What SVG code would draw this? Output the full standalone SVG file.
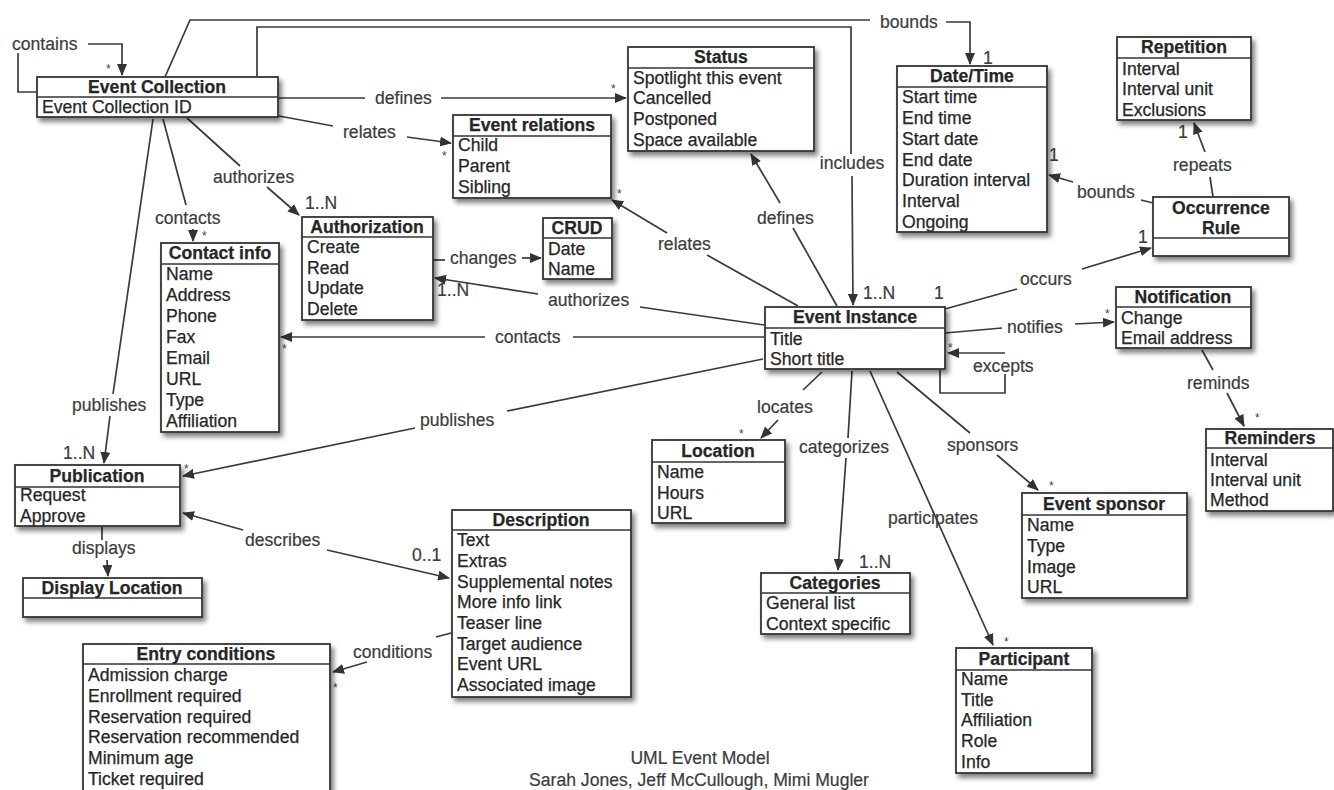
<svg xmlns="http://www.w3.org/2000/svg" width="1334" height="790" viewBox="0 0 1334 790">
<style>
.bx{fill:#fff;stroke:#333;stroke-width:1.8}
.dv{stroke:#333;stroke-width:1.5}
.t{font-family:"Liberation Sans",Arial,sans-serif;font-size:17.6px;fill:#262626;stroke:#262626;stroke-width:0.25}
.h{font-weight:bold;text-anchor:middle}
.ln{fill:none;stroke:#3a3a3a;stroke-width:1.7}
.ar{fill:none;stroke:#3a3a3a;stroke-width:1.7;marker-end:url(#ah)}
.l{font-family:"Liberation Sans",Arial,sans-serif;font-size:17.6px;fill:#3c3c3c;stroke:#3c3c3c;stroke-width:0.2}
.m{font-family:"Liberation Sans",Arial,sans-serif;font-size:12px;fill:#444}
.c{text-anchor:middle}
</style>
<defs>
<filter id="sh" x="-10%" y="-10%" width="130%" height="140%">
<feGaussianBlur in="SourceAlpha" stdDeviation="2.5"/>
<feOffset dx="3" dy="4" result="o"/>
<feComponentTransfer><feFuncA type="linear" slope="0.5"/></feComponentTransfer>
<feMerge><feMergeNode/><feMergeNode in="SourceGraphic"/></feMerge>
</filter>
<marker id="ah" markerWidth="12" markerHeight="10" refX="11" refY="5" orient="auto" markerUnits="userSpaceOnUse">
<path d="M0,0 L12,5 L0,10 z" fill="#333"/>
</marker>
</defs>
<rect width="1334" height="790" fill="#fff"/>

<g id="connectors">
<!-- contains -->
<path class="ln" d="M37,92 H18 V53"/>
<text class="l" x="12" y="50">contains</text>
<path class="ar" d="M88,44 H122 V75"/>
<text class="m" x="106" y="73">*</text>
<!-- bounds (top) -->
<path class="ln" d="M165,77 L190,20 H870"/>
<text class="l" x="880" y="28">bounds</text>
<path class="ar" d="M946,22 H970 V64"/>
<text class="l" x="983" y="64">1</text>
<!-- includes -->
<path class="ln" d="M257,76 V27 H851 V154"/>
<text class="l c" x="852" y="169">includes</text>
<path class="ar" d="M852,176 L853,305"/>
<text class="l" x="863" y="299">1..N</text>
<!-- defines EC -> Status -->
<path class="ln" d="M278,98 H365"/>
<text class="l" x="375" y="104">defines</text>
<path class="ar" d="M441,98 H626"/>
<text class="m" x="611" y="93">*</text>
<!-- relates EC -> Event relations -->
<path class="ln" d="M279,116 L333,126"/>
<text class="l" x="343" y="138">relates</text>
<path class="ar" d="M407,137 L451,143"/>
<text class="m" x="442" y="160">*</text>
<!-- authorizes EC -> Authorization -->
<path class="ln" d="M187,118 L240,166"/>
<text class="l" x="213" y="183">authorizes</text>
<path class="ar" d="M267,187 L299,215"/>
<text class="l" x="305" y="209">1..N</text>
<!-- contacts EC -> Contact info -->
<path class="ln" d="M163,119 L186,205"/>
<text class="l" x="155" y="224">contacts</text>
<path class="ar" d="M193,229 V241"/>
<text class="m" x="202" y="240">*</text>
<!-- publishes EC -> Publication -->
<path class="ln" d="M153,119 L113,394"/>
<text class="l" x="72" y="411">publishes</text>
<path class="ar" d="M110,416 L104,463"/>
<text class="l" x="63" y="459">1..N</text>
<!-- changes -->
<path class="ln" d="M433,260 H445"/>
<text class="l" x="450" y="264">changes</text>
<path class="ar" d="M522,258 H541"/>
<!-- authorizes EI -> Authorization -->
<path class="ln" d="M764,325 L640,307"/>
<text class="l" x="548" y="306">authorizes</text>
<path class="ar" d="M538,294 L435,278"/>
<text class="l" x="437" y="296">1..N</text>
<!-- contacts EI -> Contact info -->
<path class="ln" d="M764,337 H573"/>
<text class="l" x="495" y="343">contacts</text>
<path class="ar" d="M485,337 H281"/>
<text class="m" x="282" y="353">*</text>
<!-- relates EI -> Event relations -->
<path class="ln" d="M798,306 L707,255"/>
<text class="l" x="658" y="250">relates</text>
<path class="ar" d="M667,233 L612,200"/>
<text class="m" x="617" y="198">*</text>
<!-- defines EI -> Status -->
<path class="ln" d="M837,306 L793,228"/>
<text class="l" x="757" y="224">defines</text>
<path class="ar" d="M780,203 L751,154"/>
<!-- bounds OR -> Date/Time -->
<path class="ln" d="M1153,203 L1141,200"/>
<text class="l" x="1077" y="198">bounds</text>
<path class="ar" d="M1073,182 L1049,175"/>
<text class="l" x="1049" y="161">1</text>
<!-- repeats -->
<path class="ln" d="M1213,197 L1210,177"/>
<text class="l" x="1173" y="171">repeats</text>
<path class="ar" d="M1205,152 L1194,123"/>
<text class="l" x="1178" y="138">1</text>
<!-- occurs -->
<path class="ln" d="M945,309 L1017,289"/>
<text class="l" x="1020" y="285">occurs</text>
<path class="ar" d="M1082,269 L1151,248"/>
<text class="l" x="1138" y="243">1</text>
<text class="l" x="934" y="299">1</text>
<!-- notifies -->
<path class="ln" d="M945,333 L1002,328"/>
<text class="l" x="1007" y="333">notifies</text>
<path class="ar" d="M1075,324 L1114,322"/>
<text class="m" x="1105" y="318">*</text>
<!-- excepts -->
<path class="ar" d="M1005,353 H948"/>
<path class="ln" d="M1005,374 V393 H940 V370"/>
<text class="l" x="973" y="372">excepts</text>
<text class="m" x="948" y="352">*</text>
<!-- reminds -->
<path class="ln" d="M1202,350 L1213,370"/>
<text class="l" x="1187" y="389">reminds</text>
<path class="ar" d="M1227,393 L1244,426"/>
<text class="m" x="1255" y="422">*</text>
<!-- locates -->
<path class="ln" d="M822,372 L803,390"/>
<text class="l" x="757" y="413">locates</text>
<path class="ar" d="M778,420 L761,438"/>
<text class="m" x="739" y="438">*</text>
<!-- categorizes -->
<path class="ln" d="M852,371 L848,438"/>
<text class="l" x="799" y="453">categorizes</text>
<path class="ar" d="M846,458 L838,570"/>
<text class="l" x="859" y="568">1..N</text>
<!-- participates -->
<path class="ar" d="M870,371 L993,645"/>
<text class="l" x="888" y="524">participates</text>
<text class="m" x="1004" y="646">*</text>
<!-- sponsors -->
<path class="ln" d="M897,372 L970,433"/>
<text class="l" x="947" y="451">sponsors</text>
<path class="ar" d="M997,455 L1038,490"/>
<text class="m" x="1049" y="490">*</text>
<!-- publishes EI -> Publication -->
<path class="ln" d="M763,359 L507,411"/>
<text class="l" x="420" y="426">publishes</text>
<path class="ar" d="M415,428 L183,476"/>
<text class="m" x="184" y="473">*</text>
<!-- describes -->
<path class="ar" d="M243,530 L183,513"/>
<text class="l" x="245" y="546">describes</text>
<path class="ar" d="M327,550 L449,578"/>
<text class="l" x="412" y="561">0..1</text>
<!-- displays -->
<path class="ln" d="M102,527 V540"/>
<text class="l" x="72" y="554">displays</text>
<path class="ar" d="M107,560 L108,576"/>
<!-- conditions -->
<path class="ln" d="M451,633 L436,637"/>
<text class="l" x="353" y="658">conditions</text>
<path class="ar" d="M367,662 L333,672"/>
<text class="m" x="333" y="692">*</text>
</g>

<g id="event-collection">
<rect class="bx" filter="url(#sh)" x="37" y="77" width="241" height="40"/>
<line class="dv" x1="37" y1="97" x2="278" y2="97"/>
<text class="t h" x="157" y="93">Event Collection</text>
<text class="t" x="42" y="113">Event Collection ID</text>
</g>

<g id="status">
<rect class="bx" filter="url(#sh)" x="628" y="47" width="186" height="104"/>
<line class="dv" x1="628" y1="68" x2="814" y2="68"/>
<text class="t h" x="721" y="63">Status</text>
<text class="t" x="633" y="84">Spotlight this event</text>
<text class="t" x="633" y="104">Cancelled</text>
<text class="t" x="633" y="125">Postponed</text>
<text class="t" x="633" y="146">Space available</text>
</g>

<g id="event-relations">
<rect class="bx" filter="url(#sh)" x="453" y="115" width="158" height="83"/>
<line class="dv" x1="453" y1="136" x2="611" y2="136"/>
<text class="t h" x="532" y="131">Event relations</text>
<text class="t" x="458" y="151">Child</text>
<text class="t" x="458" y="172">Parent</text>
<text class="t" x="458" y="193">Sibling</text>
</g>

<g id="crud">
<rect class="bx" filter="url(#sh)" x="543" y="218" width="69" height="61"/>
<line class="dv" x1="543" y1="238" x2="612" y2="238"/>
<text class="t h" x="577" y="234">CRUD</text>
<text class="t" x="548" y="255">Date</text>
<text class="t" x="548" y="275">Name</text>
</g>

<g id="authorization">
<rect class="bx" filter="url(#sh)" x="302" y="217" width="131" height="103"/>
<line class="dv" x1="302" y1="237" x2="433" y2="237"/>
<text class="t h" x="367" y="233">Authorization</text>
<text class="t" x="307" y="253">Create</text>
<text class="t" x="307" y="274">Read</text>
<text class="t" x="307" y="294">Update</text>
<text class="t" x="307" y="315">Delete</text>
</g>

<g id="contact-info">
<rect class="bx" filter="url(#sh)" x="161" y="243" width="118" height="189"/>
<line class="dv" x1="161" y1="264" x2="279" y2="264"/>
<text class="t h" x="220" y="259">Contact info</text>
<text class="t" x="166" y="280">Name</text>
<text class="t" x="166" y="301">Address</text>
<text class="t" x="166" y="322">Phone</text>
<text class="t" x="166" y="343">Fax</text>
<text class="t" x="166" y="364">Email</text>
<text class="t" x="166" y="385">URL</text>
<text class="t" x="166" y="406">Type</text>
<text class="t" x="166" y="427">Affiliation</text>
</g>

<g id="date-time">
<rect class="bx" filter="url(#sh)" x="897" y="66" width="150" height="166"/>
<line class="dv" x1="897" y1="87" x2="1047" y2="87"/>
<text class="t h" x="972" y="82">Date/Time</text>
<text class="t" x="902" y="103">Start time</text>
<text class="t" x="902" y="124">End time</text>
<text class="t" x="902" y="145">Start date</text>
<text class="t" x="902" y="166">End date</text>
<text class="t" x="902" y="186">Duration interval</text>
<text class="t" x="902" y="207">Interval</text>
<text class="t" x="902" y="228">Ongoing</text>
</g>

<g id="repetition">
<rect class="bx" filter="url(#sh)" x="1117" y="37" width="134" height="83"/>
<line class="dv" x1="1117" y1="58" x2="1251" y2="58"/>
<text class="t h" x="1184" y="53">Repetition</text>
<text class="t" x="1122" y="75">Interval</text>
<text class="t" x="1122" y="95">Interval unit</text>
<text class="t" x="1122" y="116">Exclusions</text>
</g>

<g id="occurrence-rule">
<rect class="bx" filter="url(#sh)" x="1153" y="197" width="136" height="59"/>
<line class="dv" x1="1153" y1="238" x2="1289" y2="238"/>
<text class="t h" x="1221" y="214">Occurrence</text>
<text class="t h" x="1221" y="234">Rule</text>
</g>

<g id="event-instance">
<rect class="bx" filter="url(#sh)" x="765" y="307" width="180" height="62"/>
<line class="dv" x1="765" y1="328" x2="945" y2="328"/>
<text class="t h" x="855" y="323">Event Instance</text>
<text class="t" x="770" y="345">Title</text>
<text class="t" x="770" y="365">Short title</text>
</g>

<g id="notification">
<rect class="bx" filter="url(#sh)" x="1116" y="287" width="135" height="61"/>
<line class="dv" x1="1116" y1="307" x2="1251" y2="307"/>
<text class="t h" x="1183" y="303">Notification</text>
<text class="t" x="1121" y="324">Change</text>
<text class="t" x="1121" y="344">Email address</text>
</g>

<g id="reminders">
<rect class="bx" filter="url(#sh)" x="1206" y="429" width="127" height="82"/>
<line class="dv" x1="1206" y1="448" x2="1333" y2="448"/>
<text class="t h" x="1270" y="444">Reminders</text>
<text class="t" x="1210" y="466">Interval</text>
<text class="t" x="1210" y="486">Interval unit</text>
<text class="t" x="1210" y="506">Method</text>
</g>

<g id="publication">
<rect class="bx" filter="url(#sh)" x="15" y="465" width="165" height="61"/>
<line class="dv" x1="15" y1="487" x2="180" y2="487"/>
<text class="t h" x="97" y="482">Publication</text>
<text class="t" x="20" y="501">Request</text>
<text class="t" x="20" y="522">Approve</text>
</g>

<g id="display-location">
<rect class="bx" filter="url(#sh)" x="23" y="578" width="179" height="39"/>
<line class="dv" x1="23" y1="598" x2="202" y2="598"/>
<text class="t h" x="112" y="594">Display Location</text>
</g>

<g id="entry-conditions">
<rect class="bx" filter="url(#sh)" x="83" y="644" width="247" height="147"/>
<line class="dv" x1="83" y1="664" x2="330" y2="664"/>
<text class="t h" x="206" y="660">Entry conditions</text>
<text class="t" x="88" y="681">Admission charge</text>
<text class="t" x="88" y="702">Enrollment required</text>
<text class="t" x="88" y="723">Reservation required</text>
<text class="t" x="88" y="743">Reservation recommended</text>
<text class="t" x="88" y="764">Minimum age</text>
<text class="t" x="88" y="785">Ticket required</text>
</g>

<g id="description">
<rect class="bx" filter="url(#sh)" x="452" y="510" width="179" height="187"/>
<line class="dv" x1="452" y1="530" x2="631" y2="530"/>
<text class="t h" x="541" y="526">Description</text>
<text class="t" x="457" y="546">Text</text>
<text class="t" x="457" y="567">Extras</text>
<text class="t" x="457" y="588">Supplemental notes</text>
<text class="t" x="457" y="608">More info link</text>
<text class="t" x="457" y="629">Teaser line</text>
<text class="t" x="457" y="650">Target audience</text>
<text class="t" x="457" y="670">Event URL</text>
<text class="t" x="457" y="691">Associated image</text>
</g>

<g id="location">
<rect class="bx" filter="url(#sh)" x="652" y="440" width="133" height="83"/>
<line class="dv" x1="652" y1="462" x2="785" y2="462"/>
<text class="t h" x="718" y="457">Location</text>
<text class="t" x="657" y="478">Name</text>
<text class="t" x="657" y="499">Hours</text>
<text class="t" x="657" y="519">URL</text>
</g>

<g id="categories">
<rect class="bx" filter="url(#sh)" x="761" y="573" width="149" height="61"/>
<line class="dv" x1="761" y1="593" x2="910" y2="593"/>
<text class="t h" x="835" y="589">Categories</text>
<text class="t" x="766" y="609">General list</text>
<text class="t" x="766" y="630">Context specific</text>
</g>

<g id="event-sponsor">
<rect class="bx" filter="url(#sh)" x="1022" y="493" width="165" height="105"/>
<line class="dv" x1="1022" y1="515" x2="1187" y2="515"/>
<text class="t h" x="1104" y="510">Event sponsor</text>
<text class="t" x="1027" y="531">Name</text>
<text class="t" x="1027" y="552">Type</text>
<text class="t" x="1027" y="573">Image</text>
<text class="t" x="1027" y="593">URL</text>
</g>

<g id="participant">
<rect class="bx" filter="url(#sh)" x="956" y="648" width="136" height="125"/>
<line class="dv" x1="956" y1="670" x2="1092" y2="670"/>
<text class="t h" x="1024" y="665">Participant</text>
<text class="t" x="961" y="685">Name</text>
<text class="t" x="961" y="706">Title</text>
<text class="t" x="961" y="726">Affiliation</text>
<text class="t" x="961" y="747">Role</text>
<text class="t" x="961" y="768">Info</text>
</g>

<g id="caption">
<text class="l c" x="700" y="764">UML Event Model</text>
<text class="l c" x="699" y="786">Sarah Jones, Jeff McCullough, Mimi Mugler</text>
</g>
</svg>
